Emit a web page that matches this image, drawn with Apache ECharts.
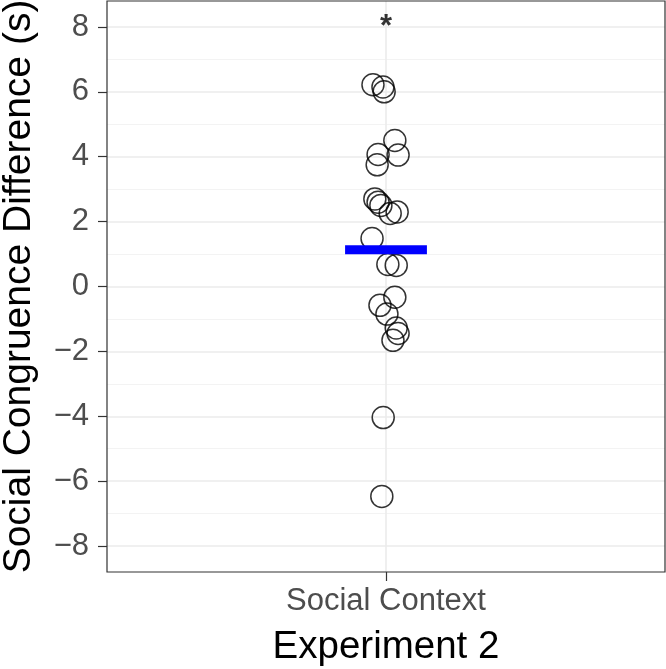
<!DOCTYPE html>
<html>
<head>
<meta charset="utf-8">
<script src="https://cdn.jsdelivr.net/npm/echarts@6/dist/echarts.min.js"></script>
<style>html,body{margin:0;padding:0;background:#fff}#c{width:666px;height:669px}</style>
</head>
<body>
<div id="c"></div>
<script>
// ---- data ----
const categoryLabel = 'Social Context';
const xTitle = 'Experiment 2';
const yTitle = 'Social Congruence Difference (s)';
const pointJitter = [-0.028, -0.0065, -0.004, 0.019, -0.017, 0.026, -0.019, -0.024, -0.017, -0.011, 0.009, 0.024, -0.030, 0.004, 0.022, 0.019, -0.013, 0.002, 0.022, 0.026, 0.015, -0.006, -0.009];
const pointValues = [6.22, 6.15, 6.0, 4.5, 4.07, 4.05, 3.75, 2.7, 2.6, 2.5, 2.25, 2.3, 1.48, 0.68, 0.65, -0.33, -0.58, -0.85, -1.28, -1.45, -1.66, -4.04, -6.47];
const meanValue = 1.13;
const meanHalfWidth = 0.088;
const starValue = 8.0;
const yTicks = [-8, -6, -4, -2, 0, 2, 4, 6, 8];
const yMinorTicks = [-7, -5, -3, -1, 1, 3, 5, 7];

const chart = echarts.init(document.getElementById('c'), null, {renderer: 'canvas'});
const FONT = 'Liberation Sans, Arial, Helvetica, sans-serif';

const gridLines = [];
yMinorTicks.forEach(v => gridLines.push({yAxis: v, lineStyle: {color: '#f3f3f3', width: 1, type: 'solid'}}));
yTicks.forEach(v => gridLines.push({yAxis: v, lineStyle: {color: '#ebebeb', width: 1.6, type: 'solid'}}));
gridLines.push({xAxis: 0, lineStyle: {color: '#ebebeb', width: 1.6, type: 'solid'}});

chart.setOption({
  animation: false,
  backgroundColor: '#fff',
  grid: {left: 107, right: 1, top: 1, bottom: 97, outerBoundsMode: 'none', containLabel: false,
         show: true, borderColor: '#333333', borderWidth: 1.2, backgroundColor: 'transparent', z: 10},
  xAxis: {
    type: 'value', min: -0.6, max: 0.6,
    axisLine: {show: false, onZero: false},
    splitLine: {show: false},
    axisTick: {show: true, customValues: [0], length: 9, lineStyle: {color: '#333333', width: 1.2}},
    axisLabel: {customValues: [0], formatter: () => categoryLabel, color: '#4d4d4d', fontSize: 31, fontFamily: FONT, margin: 14},
    name: xTitle, nameLocation: 'middle', nameGap: 56,
    nameTextStyle: {color: '#000', fontSize: 38.5, fontFamily: FONT}
  },
  yAxis: {
    type: 'value', min: -8.8, max: 8.8,
    axisLine: {show: false, onZero: false},
    splitLine: {show: false},
    axisTick: {show: true, customValues: yTicks, length: 9, lineStyle: {color: '#333333', width: 1.2}},
    axisLabel: {customValues: yTicks, formatter: v => String(v).replace('-', '\u2212'), color: '#4d4d4d', fontSize: 31, fontFamily: FONT, margin: 18},
    name: yTitle, nameLocation: 'middle', nameGap: 68, nameRotate: 90,
    nameTextStyle: {color: '#000', fontSize: 39, fontFamily: FONT}
  },
  series: [
    {
      type: 'line', data: [], z: 1, silent: true,
      markLine: {silent: true, z: 1, symbol: 'none', label: {show: false}, data: gridLines, animation: false}
    },
    {
      type: 'scatter', z: 3, symbol: 'circle', symbolSize: 22,
      itemStyle: {color: 'rgba(0,0,0,0)', borderColor: '#000', borderWidth: 1.5},
      data: pointValues.map((v, i) => [pointJitter[i], v])
    },
    {
      type: 'line', z: 4, symbol: 'none', silent: true,
      lineStyle: {color: '#0000ff', width: 9, cap: 'butt'},
      data: [[-meanHalfWidth, meanValue], [meanHalfWidth, meanValue]]
    },
    {
      type: 'scatter', z: 5, symbolSize: 0,
      label: {show: true, position: 'inside', formatter: '*', color: '#000', fontSize: 31, fontWeight: 'bold', fontFamily: FONT},
      data: [[0, starValue]]
    }
  ]
});
</script>
</body>
</html>
